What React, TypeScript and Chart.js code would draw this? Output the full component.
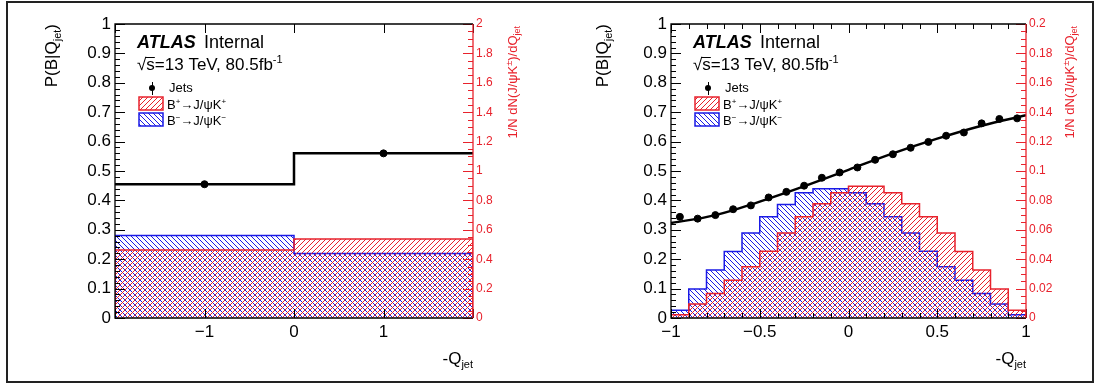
import React, { useEffect, useRef } from 'react';
import { Chart, registerables } from 'chart.js';
Chart.register(...registerables);

const FONT = '"Liberation Sans", Arial, Helvetica, sans-serif';
const RED = '#e8222c';
const BLUE = '#1a1ae6';

// ---------- Left panel (2 bins) ----------
const leftEdges = [-2, 0, 2];
const leftJetsX = [-1, 1];
const leftJetsP = [0.455, 0.56];
const leftBplus = [0.463, 0.537];
const leftBminus = [0.562, 0.438];

// ---------- Right panel (20 bins) ----------
const rightEdges = [-1, -0.9, -0.8, -0.7, -0.6, -0.5, -0.4, -0.3, -0.2, -0.1, 0, 0.1, 0.2, 0.3, 0.4, 0.5, 0.6, 0.7, 0.8, 0.9, 1];
const rightJetsX = [-0.95, -0.85, -0.75, -0.65, -0.55, -0.45, -0.35, -0.25, -0.15, -0.05, 0.05, 0.15, 0.25, 0.35, 0.45, 0.55, 0.65, 0.75, 0.85, 0.95];
const rightJetsP = [0.344, 0.338, 0.35, 0.37, 0.383, 0.41, 0.429, 0.45, 0.477, 0.495, 0.512, 0.538, 0.557, 0.579, 0.599, 0.62, 0.631, 0.662, 0.677, 0.679];
const rightBminus = [0.0052, 0.0198, 0.0326, 0.0452, 0.0578, 0.0688, 0.0772, 0.0852, 0.088, 0.088, 0.0852, 0.0778, 0.0688, 0.0578, 0.0454, 0.0348, 0.0256, 0.0166, 0.0096, 0.0022];
const rightBplus = [0.0022, 0.0096, 0.0166, 0.0256, 0.0348, 0.0454, 0.0578, 0.0688, 0.0778, 0.0852, 0.0896, 0.0896, 0.0852, 0.0778, 0.0688, 0.0578, 0.0452, 0.0326, 0.0198, 0.0052];
const fitX = [-1, -0.75, -0.5, -0.25, 0, 0.25, 0.5, 0.75, 1];
const fitP = [0.323, 0.35, 0.396, 0.448, 0.504, 0.56, 0.61, 0.654, 0.69];

// tick label lists
const leftXLabels: Record<string, string> = { '-1': '\u22121', '0': '0', '1': '1' };
const rightXLabels: Record<string, string> = { '-1': '\u22121', '-0.5': '\u22120.5', '0': '0', '0.5': '0.5', '1': '1' };

type Part = { t: string; size: number; dy?: number; style?: string };

function richWidth(ctx: CanvasRenderingContext2D, parts: Part[]) {
  let w = 0;
  for (const p of parts) {
    ctx.font = `${p.style || ''} ${p.size}px ${FONT}`;
    w += ctx.measureText(p.t).width;
  }
  return w;
}
function drawRich(ctx: CanvasRenderingContext2D, parts: Part[], x: number, y: number) {
  let cx = x;
  for (const p of parts) {
    ctx.font = `${p.style || ''} ${p.size}px ${FONT}`;
    ctx.fillText(p.t, cx, y + (p.dy || 0));
    cx += ctx.measureText(p.t).width;
  }
  return cx;
}

function makeHatch(color: string, dir: '/' | '\\') {
  const s = 5;
  const c = document.createElement('canvas');
  c.width = s; c.height = s;
  const g = c.getContext('2d')!;
  g.strokeStyle = color;
  g.lineWidth = 1;
  g.beginPath();
  if (dir === '/') {
    g.moveTo(-1, s + 1); g.lineTo(s + 1, -1);
    g.moveTo(-1, 1); g.lineTo(1, -1);
    g.moveTo(s - 1, s + 1); g.lineTo(s + 1, s - 1);
  } else {
    g.moveTo(-1, -1); g.lineTo(s + 1, s + 1);
    g.moveTo(-1, s - 1); g.lineTo(1, s + 1);
    g.moveTo(s - 1, -1); g.lineTo(s + 1, 1);
  }
  g.stroke();
  return g.createPattern(c, 'repeat')!;
}

function histPoints(edges: number[], vals: number[]) {
  const pts = [{ x: edges[0], y: 0 }];
  vals.forEach((v, i) => pts.push({ x: edges[i], y: v }));
  pts.push({ x: edges[edges.length - 1], y: vals[vals.length - 1] });
  pts.push({ x: edges[edges.length - 1], y: 0 });
  return pts;
}

type Spec = {
  width: number;
  leftW: number;
  rightW: number;
  xMin: number; xMax: number; xStep: number;
  xTicks: { v: number; major: boolean }[];
  xLabels: Record<string, string>;
  y2Max: number; y2Step: number; y2Minor: number;
  edges: number[]; bplus: number[]; bminus: number[];
  jetsX: number[]; jetsP: number[];
  line: { x: number; y: number }[];
  lineStepped: boolean;
  yTitleX: number;
  y2TitleX: number;
};

function fmt(v: number, d: number) {
  return String(Number(v.toFixed(d)));
}

function buildChart(canvas: HTMLCanvasElement, spec: Spec) {
  const ctx0 = canvas.getContext('2d')!;
  const redPat = makeHatch(RED, '/');
  const bluePat = makeHatch(BLUE, '\\');

  const overlay = {
    id: 'overlay',
    afterDraw(chart: any) {
      const { ctx, chartArea: a, scales } = chart;
      const x = scales.x, y = scales.y, y2 = scales.y2;
      ctx.save();
      ctx.lineWidth = 1;
      // left y ticks
      ctx.strokeStyle = '#000';
      ctx.beginPath();
      for (let i = 0; i <= 50; i++) {
        const p = Math.round(y.getPixelForValue(i / 50)) + 0.5;
        const len = i % 5 === 0 ? 10 : 5;
        ctx.moveTo(a.left, p); ctx.lineTo(a.left + len, p);
      }
      // x ticks top and bottom
      for (const t of spec.xTicks) {
        const p = Math.round(x.getPixelForValue(t.v)) + 0.5;
        const len = t.major ? 9 : 5;
        ctx.moveTo(p, a.bottom); ctx.lineTo(p, a.bottom - len);
        ctx.moveTo(p, a.top); ctx.lineTo(p, a.top + len);
      }
      ctx.stroke();
      // red right ticks
      ctx.strokeStyle = RED;
      ctx.beginPath();
      const n = Math.round(spec.y2Max / spec.y2Minor);
      for (let i = 0; i <= n; i++) {
        const p = Math.round(y2.getPixelForValue(i * spec.y2Minor)) + 0.5;
        const len = i % 4 === 0 ? 10 : 5;
        ctx.moveTo(a.right, p); ctx.lineTo(a.right - len, p);
      }
      ctx.stroke();
      // frame
      ctx.lineWidth = 1.3;
      ctx.strokeStyle = '#000';
      ctx.beginPath();
      ctx.moveTo(a.right, a.top); ctx.lineTo(a.left, a.top); ctx.lineTo(a.left, a.bottom); ctx.lineTo(a.right, a.bottom);
      ctx.stroke();
      ctx.strokeStyle = RED;
      ctx.beginPath();
      ctx.moveTo(a.right, a.top); ctx.lineTo(a.right, a.bottom);
      ctx.stroke();

      // texts
      ctx.fillStyle = '#000';
      ctx.textAlign = 'left';
      ctx.textBaseline = 'alphabetic';
      const L = a.left;
      drawRich(ctx, [{ t: 'ATLAS', size: 18, style: 'italic bold' }], L + 22, 48);
      drawRich(ctx, [{ t: 'Internal', size: 18 }], L + 89, 48);
      // sqrt s
      ctx.font = `17px ${FONT}`;
      const rw = ctx.measureText('\u221A').width;
      const sw = ctx.measureText('s').width;
      drawRich(ctx, [
        { t: '\u221A', size: 17 },
        { t: 's=13 TeV, 80.5fb', size: 17 },
        { t: '-1', size: 11, dy: -7 },
      ], L + 22, 70);
      ctx.lineWidth = 1;
      ctx.strokeStyle = '#000';
      ctx.beginPath();
      ctx.moveTo(L + 22 + rw - 1, 57.5); ctx.lineTo(L + 22 + rw + sw, 57.5);
      ctx.stroke();

      // legend
      ctx.beginPath();
      ctx.arc(L + 37, 88, 3, 0, Math.PI * 2);
      ctx.fill();
      ctx.beginPath();
      ctx.moveTo(L + 37.5, 82); ctx.lineTo(L + 37.5, 95);
      ctx.stroke();
      drawRich(ctx, [{ t: 'Jets', size: 13 }], L + 54, 92);

      const box = (yy: number, pat: CanvasPattern, col: string) => {
        ctx.fillStyle = pat;
        ctx.fillRect(L + 24, yy, 24, 13);
        ctx.strokeStyle = col;
        ctx.lineWidth = 1.5;
        ctx.strokeRect(L + 24, yy, 24, 13);
        ctx.fillStyle = '#000';
      };
      box(97, redPat, RED);
      box(113, bluePat, BLUE);
      drawRich(ctx, [
        { t: 'B', size: 13 }, { t: '+', size: 8, dy: -5 }, { t: '\u2192J/\u03C8K', size: 13 }, { t: '+', size: 8, dy: -5 },
      ], L + 52, 109);
      drawRich(ctx, [
        { t: 'B', size: 13 }, { t: '\u2212', size: 8, dy: -5 }, { t: '\u2192J/\u03C8K', size: 13 }, { t: '\u2212', size: 8, dy: -5 },
      ], L + 52, 125);

      // x title
      const xt: Part[] = [{ t: '-Q', size: 17 }, { t: 'jet', size: 11, dy: 4 }];
      drawRich(ctx, xt, a.right - richWidth(ctx, xt), 364);

      // y title (rotated)
      const yt: Part[] = [{ t: 'P(B|Q', size: 17 }, { t: 'jet', size: 11, dy: 4 }, { t: ')', size: 17 }];
      ctx.save();
      ctx.translate(spec.yTitleX, a.top);
      ctx.rotate(-Math.PI / 2);
      drawRich(ctx, yt, -richWidth(ctx, yt), 0);
      ctx.restore();

      // y2 title (rotated, red)
      const y2t: Part[] = [
        { t: '1/N dN(J/\u03C8K', size: 13 }, { t: '\u00B1', size: 9, dy: -5 }, { t: ')/dQ', size: 13 }, { t: 'jet', size: 9, dy: 3 },
      ];
      ctx.save();
      ctx.fillStyle = RED;
      ctx.translate(spec.y2TitleX, a.top + 2);
      ctx.rotate(-Math.PI / 2);
      drawRich(ctx, y2t, -richWidth(ctx, y2t), 0);
      ctx.restore();

      ctx.restore();
    },
  };

  const datasets: any[] = [
    {
      data: spec.jetsX.map((xv, i) => ({ x: xv, y: spec.jetsP[i] })),
      yAxisID: 'y', showLine: false, pointRadius: 3.5, pointBackgroundColor: '#000', pointBorderColor: '#000', borderColor: '#000',
    },
    {
      data: spec.line, yAxisID: 'y', pointRadius: 0, borderColor: '#000', borderWidth: 2.5,
      stepped: spec.lineStepped ? 'before' : false, tension: spec.lineStepped ? 0 : 0.4, fill: false,
    },
    {
      data: histPoints(spec.edges, spec.bplus), yAxisID: 'y2', pointRadius: 0, borderColor: RED, borderWidth: 1.5,
      stepped: 'before', fill: 'origin', backgroundColor: redPat,
    },
    {
      data: histPoints(spec.edges, spec.bminus), yAxisID: 'y2', pointRadius: 0, borderColor: BLUE, borderWidth: 1.5,
      stepped: 'before', fill: 'origin', backgroundColor: bluePat,
    },
  ];

  return new Chart(ctx0, {
    type: 'line',
    data: { datasets },
    options: {
      animation: false,
      responsive: false,
      events: [],
      layout: { padding: { top: 24, left: 0, right: 0, bottom: 0 } },
      plugins: { legend: { display: false }, tooltip: { enabled: false } },
      scales: {
        x: {
          type: 'linear', min: spec.xMin, max: spec.xMax,
          grid: { display: false, drawTicks: false }, border: { display: false },
          ticks: {
            stepSize: spec.xStep, autoSkip: false, maxRotation: 0, padding: 4, color: '#000',
            font: { family: FONT, size: 17 },
            callback: (v: any) => spec.xLabels[String(Number(Number(v).toFixed(2)))] ?? '',
          },
          afterFit: (s: any) => { s.height = 386 - 318; },
        },
        y: {
          type: 'linear', position: 'left', min: 0, max: 1,
          grid: { display: false, drawTicks: false }, border: { display: false },
          ticks: {
            stepSize: 0.1, autoSkip: false, padding: 4, color: '#000',
            font: { family: FONT, size: 17 },
            callback: (v: any) => fmt(Number(v), 1),
          },
          afterFit: (s: any) => { s.width = spec.leftW; },
        },
        y2: {
          type: 'linear', position: 'right', min: 0, max: spec.y2Max,
          grid: { display: false, drawTicks: false }, border: { display: false },
          ticks: {
            stepSize: spec.y2Step, autoSkip: false, padding: 3, color: RED,
            font: { family: FONT, size: 12 },
            callback: (v: any) => fmt(Number(v), 3),
          },
          afterFit: (s: any) => { s.width = spec.rightW; },
        },
      },
    } as any,
    plugins: [overlay],
  });
}

function Panel({ spec, left }: { spec: Spec; left: number }) {
  const ref = useRef<HTMLCanvasElement>(null);
  useEffect(() => {
    const c = buildChart(ref.current!, spec);
    return () => c.destroy();
  }, []);
  return (
    <canvas
      ref={ref}
      width={spec.width}
      height={386}
      style={{ position: 'absolute', left, top: 0, width: spec.width, height: 386 }}
    />
  );
}

const leftTicks = [-2, -1, 0, 1, 2].map((v) => ({ v, major: true }));
const rightTicks = Array.from({ length: 21 }, (_, i) => ({ v: -1 + i * 0.1, major: i % 5 === 0 }));

const leftSpec: Spec = {
  width: 550, leftW: 115, rightW: 550 - 473,
  xMin: -2, xMax: 2, xStep: 1, xTicks: leftTicks, xLabels: leftXLabels,
  y2Max: 2, y2Step: 0.2, y2Minor: 0.05,
  edges: leftEdges, bplus: leftBplus, bminus: leftBminus,
  jetsX: leftJetsX, jetsP: leftJetsP,
  line: [
    { x: leftEdges[0], y: leftJetsP[0] },
    { x: leftEdges[1], y: leftJetsP[1] },
    { x: leftEdges[2], y: leftJetsP[1] },
  ],
  lineStepped: true,
  yTitleX: 57, y2TitleX: 517,
};

const rightSpec: Spec = {
  width: 551, leftW: 671 - 550, rightW: 551 - (1026 - 550),
  xMin: -1, xMax: 1, xStep: 0.5, xTicks: rightTicks, xLabels: rightXLabels,
  y2Max: 0.2, y2Step: 0.02, y2Minor: 0.005,
  edges: rightEdges, bplus: rightBplus, bminus: rightBminus,
  jetsX: rightJetsX, jetsP: rightJetsP,
  line: fitX.map((xv, i) => ({ x: xv, y: fitP[i] })),
  lineStepped: false,
  yTitleX: 58, y2TitleX: 524,
};

export default function App() {
  return (
    <div style={{ position: 'absolute', left: 0, top: 0, width: 1101, height: 386, background: '#fff', overflow: 'hidden' }}>
      <div style={{ position: 'absolute', left: 6, top: 1, width: 1088, height: 382, border: '2px solid #222', boxSizing: 'border-box' }} />
      <Panel spec={leftSpec} left={0} />
      <Panel spec={rightSpec} left={550} />
    </div>
  );
}
